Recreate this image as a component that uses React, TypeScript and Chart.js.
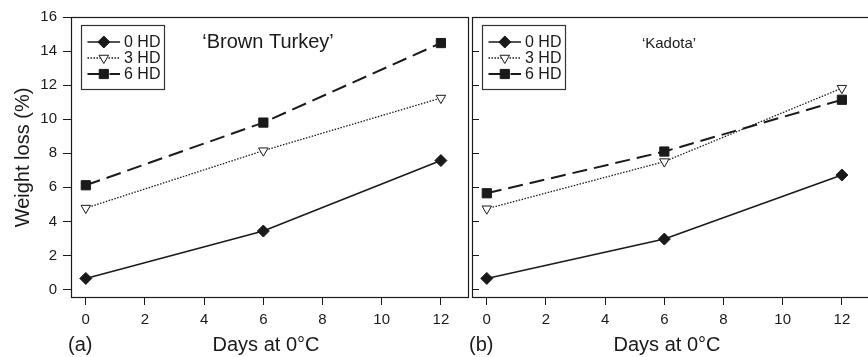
import React, { useEffect, useRef } from 'react';
import { Chart, registerables } from 'chart.js';
import { drawPoint } from 'chart.js/helpers';

Chart.register(...registerables);

// ---- data ----
const days = [0, 6, 12];
const seriesLabels = ['0 HD', '3 HD', '6 HD'];
const brownTurkey0 = [0.65, 3.43, 7.57];
const brownTurkey3 = [4.78, 8.15, 11.24];
const brownTurkey6 = [6.12, 9.8, 14.47];
const kadota0 = [0.65, 2.96, 6.72];
const kadota3 = [4.74, 7.51, 11.82];
const kadota6 = [5.65, 8.1, 11.14];
const xTickValues = [0, 2, 4, 6, 8, 10, 12];
const yTickValues = [0, 2, 4, 6, 8, 10, 12, 14, 16];

const INK = '#1a1a1a';
const FONT = "'Liberation Sans', Arial, Helvetica, sans-serif";

const seriesStyles = [
  { pointStyle: 'rectRot', radius: 6, bg: INK, dash: [] as number[], width: 1.6, rotation: 0 },
  { pointStyle: 'triangle', radius: 5.5, bg: '#ffffff', dash: [1.5, 1.5], width: 1.3, rotation: 180 },
  { pointStyle: 'rect', radius: 6.5, bg: INK, dash: [15, 7], width: 2, rotation: 0 },
];

function makeDatasets(series: number[][]) {
  return series.map((vals, i) => {
    const st = seriesStyles[i];
    return {
      label: seriesLabels[i],
      data: days.map((d, j) => ({ x: d, y: vals[j] })),
      borderColor: INK,
      borderWidth: st.width,
      borderDash: st.dash,
      pointStyle: st.pointStyle,
      pointRadius: st.radius,
      pointRotation: st.rotation,
      pointBackgroundColor: st.bg,
      pointBorderColor: INK,
      pointBorderWidth: 1,
      fill: false,
      tension: 0,
      clip: 8,
    };
  });
}

const framePlugin = {
  id: 'frame',
  afterDatasetsDraw(chart: any) {
    const { ctx, chartArea } = chart;
    ctx.save();
    ctx.strokeStyle = INK;
    ctx.lineWidth = 1.2;
    const l = Math.round(chartArea.left) + 0.5;
    const t = Math.round(chartArea.top) + 0.5;
    const r = Math.round(chartArea.right) - 0.5;
    const b = Math.round(chartArea.bottom) - 0.5;
    ctx.strokeRect(l, t, r - l, b - t);
    ctx.restore();
  },
};

const boxLegendPlugin = {
  id: 'boxLegend',
  afterDraw(chart: any) {
    const { ctx, chartArea } = chart;
    const x0 = Math.round(chartArea.left + 10) + 0.5;
    const y0 = Math.round(chartArea.top + 8) + 0.5;
    const w = 83;
    const h = 64;
    ctx.save();
    ctx.fillStyle = '#ffffff';
    ctx.fillRect(x0, y0, w, h);
    ctx.strokeStyle = '#333333';
    ctx.lineWidth = 1.2;
    ctx.strokeRect(x0, y0, w, h);
    chart.data.datasets.forEach((ds: any, i: number) => {
      const cy = y0 + 16.5 + i * 16;
      ctx.save();
      ctx.strokeStyle = ds.borderColor;
      ctx.lineWidth = ds.borderWidth;
      ctx.setLineDash(ds.borderDash || []);
      ctx.beginPath();
      ctx.moveTo(x0 + 6, cy);
      ctx.lineTo(x0 + 38.5, cy);
      ctx.stroke();
      ctx.restore();
      ctx.save();
      ctx.fillStyle = ds.pointBackgroundColor;
      ctx.strokeStyle = ds.pointBorderColor;
      ctx.lineWidth = ds.pointBorderWidth;
      drawPoint(
        ctx,
        {
          pointStyle: ds.pointStyle,
          radius: ds.pointRadius,
          rotation: ds.pointRotation,
          borderWidth: ds.pointBorderWidth,
        } as any,
        x0 + 22.3,
        cy
      );
      ctx.restore();
      ctx.fillStyle = INK;
      ctx.font = `16px ${FONT}`;
      ctx.textAlign = 'left';
      ctx.textBaseline = 'middle';
      ctx.fillText(ds.label, x0 + 42.5, cy + 1);
    });
    ctx.restore();
  },
};

const panelTextPlugin = {
  id: 'panelText',
  afterDraw(chart: any, _args: any, opts: any) {
    const { ctx, chartArea } = chart;
    ctx.save();
    ctx.fillStyle = INK;
    ctx.textBaseline = 'alphabetic';
    ctx.textAlign = 'center';
    ctx.font = `${opts.titleSize}px ${FONT}`;
    ctx.fillText(opts.title, chartArea.left + 197, chartArea.top + 31);
    ctx.font = `20px ${FONT}`;
    ctx.fillText(opts.xTitle, chartArea.left + 195, 351);
    ctx.textAlign = 'left';
    ctx.fillText(opts.tag, chartArea.left - 3, 351);
    ctx.restore();
  },
};

function makeConfig(series: number[][], first: boolean, title: string, titleSize: number, tag: string): any {
  return {
    type: 'line',
    data: { datasets: makeDatasets(series) },
    plugins: [framePlugin, boxLegendPlugin, panelTextPlugin],
    options: {
      responsive: false,
      maintainAspectRatio: false,
      animation: false,
      devicePixelRatio: 1,
      events: [],
      layout: { autoPadding: false, padding: { left: 0, top: 17, right: first ? 1 : 2, bottom: 0 } },
      scales: {
        x: {
          type: 'linear',
          min: -0.5,
          max: 12.95,
          afterBuildTicks: (s: any) => {
            s.ticks = xTickValues.map((v) => ({ value: v }));
          },
          afterFit: (s: any) => {
            s.height = 59;
            s.paddingLeft = 0;
            s.paddingRight = 0;
          },
          ticks: { color: INK, font: { size: 15, family: FONT }, padding: 6, maxRotation: 0 },
          grid: { drawOnChartArea: false, drawTicks: true, tickLength: 7, color: INK, lineWidth: 1 },
          border: { display: false },
        },
        y: {
          type: 'linear',
          min: -0.5,
          max: 16,
          afterBuildTicks: (s: any) => {
            s.ticks = yTickValues.map((v) => ({ value: v }));
          },
          afterFit: (s: any) => {
            s.width = first ? 71 : 2;
            s.paddingTop = 0;
            s.paddingBottom = 0;
          },
          ticks: { display: first, color: INK, font: { size: 15, family: FONT }, padding: 6 },
          grid: { drawOnChartArea: false, drawTicks: true, tickLength: first ? 8 : -7, color: INK, lineWidth: 1 },
          border: { display: false },
          title: {
            display: first,
            text: 'Weight loss (%)',
            color: INK,
            font: { size: 20, family: FONT },
            padding: { top: 11, bottom: 0 },
          },
        },
      },
      plugins: {
        legend: { display: false },
        tooltip: { enabled: false },
        panelText: { title, titleSize, xTitle: 'Days at 0°C', tag },
      },
    },
  };
}

export default function App() {
  const leftRef = useRef<HTMLCanvasElement>(null);
  const rightRef = useRef<HTMLCanvasElement>(null);

  useEffect(() => {
    const left = new Chart(
      leftRef.current!,
      makeConfig([brownTurkey0, brownTurkey3, brownTurkey6], true, '\u2018Brown Turkey\u2019', 20, '(a)')
    );
    const right = new Chart(
      rightRef.current!,
      makeConfig([kadota0, kadota3, kadota6], false, '\u2018Kadota\u2019', 15, '(b)')
    );
    return () => {
      left.destroy();
      right.destroy();
    };
  }, []);

  return (
    <div
      style={{
        position: 'absolute',
        left: 0,
        top: 0,
        width: 868,
        height: 357,
        overflow: 'hidden',
        background: '#ffffff',
      }}
    >
      <canvas
        ref={leftRef}
        width={470}
        height={357}
        style={{ position: 'absolute', left: 0, top: 0, width: 470, height: 357 }}
      />
      <canvas
        ref={rightRef}
        width={402}
        height={357}
        style={{ position: 'absolute', left: 470, top: 0, width: 402, height: 357 }}
      />
    </div>
  );
}
